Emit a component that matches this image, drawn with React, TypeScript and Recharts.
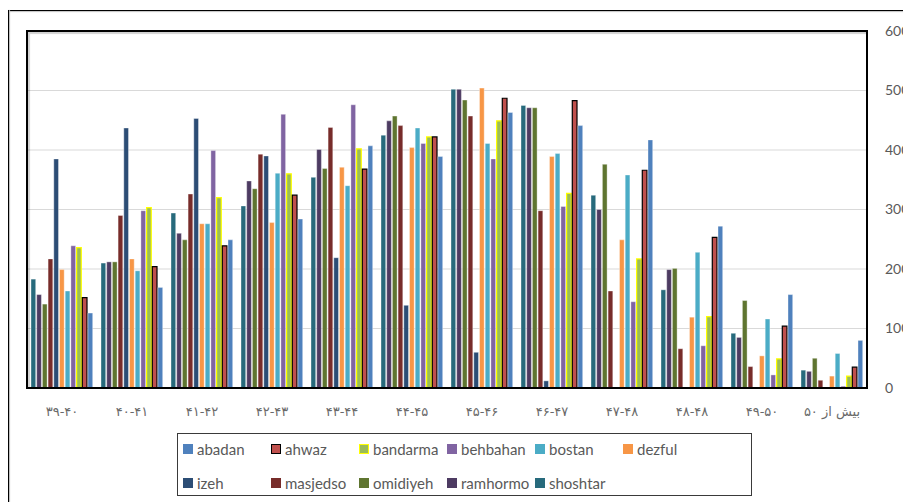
import React from 'react';
import { BarChart, Bar, XAxis, YAxis, CartesianGrid, Legend } from 'recharts';

const categories = [
  '۳۹-۴۰', '۴۰-۴۱', '۴۱-۴۲', '۴۲-۴۳', '۴۳-۴۴', '۴۴-۴۵',
  '۴۵-۴۶', '۴۶-۴۷', '۴۷-۴۸', '۴۸-۴۸', '۴۹-۵۰', 'بیش از ۵۰',
];

const seriesNames = [
  'abadan', 'ahwaz', 'bandarma', 'behbahan', 'bostan', 'dezful',
  'izeh', 'masjedso', 'omidiyeh', 'ramhormo', 'shoshtar',
];

const abadan = [126, 169, 249, 284, 407, 389, 463, 441, 417, 272, 157, 80];
const ahwaz = [152, 204, 239, 324, 368, 422, 487, 483, 366, 253, 104, 35];
const bandarma = [236, 303, 320, 360, 402, 422, 449, 327, 217, 120, 49, 20];
const behbahan = [239, 298, 399, 460, 476, 411, 385, 305, 145, 71, 22, 3];
const bostan = [163, 197, 276, 361, 340, 437, 411, 394, 358, 228, 116, 58];
const dezful = [199, 217, 276, 278, 371, 404, 504, 389, 249, 119, 54, 20];
const izeh = [385, 437, 453, 390, 219, 139, 60, 12, 0, 0, 0, 0];
const masjedso = [217, 290, 326, 393, 438, 441, 457, 298, 163, 66, 36, 13];
const omidiyeh = [141, 212, 249, 335, 369, 457, 484, 471, 376, 201, 147, 50];
const ramhormo = [157, 212, 260, 348, 401, 449, 502, 471, 300, 199, 85, 28];
const shoshtar = [183, 210, 294, 306, 354, 425, 502, 475, 324, 165, 92, 30];

const yTicks = [0, 100, 200, 300, 400, 500, 600];

const seriesValues: Record<string, number[]> = {
  abadan, ahwaz, bandarma, behbahan, bostan, dezful, izeh, masjedso, omidiyeh, ramhormo, shoshtar,
};

const seriesStyle: Record<string, { fill: string; stroke: string; strokeWidth: number }> = {
  abadan: { fill: '#4F81BD', stroke: 'rgba(255,255,255,0.45)', strokeWidth: 0.8 },
  ahwaz: { fill: '#C0504D', stroke: '#000000', strokeWidth: 1.2 },
  bandarma: { fill: '#9BBB59', stroke: '#FFFF00', strokeWidth: 1.2 },
  behbahan: { fill: '#8064A2', stroke: 'rgba(255,255,255,0.45)', strokeWidth: 0.8 },
  bostan: { fill: '#4BACC6', stroke: 'rgba(255,255,255,0.45)', strokeWidth: 0.8 },
  dezful: { fill: '#F79646', stroke: 'rgba(255,255,255,0.45)', strokeWidth: 0.8 },
  izeh: { fill: '#2C4D75', stroke: 'rgba(255,255,255,0.45)', strokeWidth: 0.8 },
  masjedso: { fill: '#772C2A', stroke: 'rgba(255,255,255,0.45)', strokeWidth: 0.8 },
  omidiyeh: { fill: '#5F7530', stroke: 'rgba(255,255,255,0.45)', strokeWidth: 0.8 },
  ramhormo: { fill: '#4D3B62', stroke: 'rgba(255,255,255,0.45)', strokeWidth: 0.8 },
  shoshtar: { fill: '#276A7C', stroke: 'rgba(255,255,255,0.45)', strokeWidth: 0.8 },
};

const data = categories.map((category, i) => {
  const row: Record<string, string | number> = { category };
  seriesNames.forEach((name) => {
    row[name] = seriesValues[name][i];
  });
  return row;
});

const drawOrder = [...seriesNames].reverse();

const LegendBox = () => (
  <div
    style={{
      width: 575,
      height: 63,
      border: '1.5px solid #3a3a3a',
      boxSizing: 'border-box',
      position: 'relative',
      background: '#fff',
      fontFamily: 'Lato, "Open Sans", sans-serif',
      fontSize: 15,
      color: '#595959',
    }}
  >
    {seriesNames.map((name, i) => {
      const row = i < 6 ? 0 : 1;
      const col = i % 6;
      const st = seriesStyle[name];
      const special = name === 'ahwaz' || name === 'bandarma';
      return (
        <div
          key={name}
          style={{
            position: 'absolute',
            left: 4.5 + col * 88,
            top: row === 0 ? 4.5 : 38.5,
            height: 20,
            display: 'flex',
            alignItems: 'center',
            whiteSpace: 'nowrap',
          }}
        >
          <span
            style={{
              display: 'inline-block',
              width: 10,
              height: 10,
              boxSizing: 'border-box',
              background: st.fill,
              border: special ? `1.5px solid ${st.stroke}` : 'none',
            }}
          />
          <span style={{ marginLeft: 4.5, lineHeight: '20px' }}>{name}</span>
        </div>
      );
    })}
  </div>
);

export default function App() {
  return (
    <div
      style={{
        position: 'relative',
        marginLeft: -8,
        marginTop: -8,
        width: 911,
        height: 502,
        overflow: 'hidden',
        background: '#fff',
      }}
    >
      <div style={{ position: 'absolute', left: 0, top: 0, zIndex: 1 }}>
        <BarChart
          width={911}
          height={502}
          data={data}
          margin={{ top: 31, left: 27, right: 0, bottom: 84 }}
          barGap={1}
        >
          <CartesianGrid horizontal vertical={false} stroke="#D9D9D9" strokeWidth={1.2} />
          <XAxis
            dataKey="category"
            height={30}
            axisLine={false}
            tickLine={false}
            tickSize={0}
            tickMargin={19}
            interval={0}
            tick={{ fill: '#6a6a6a', fontSize: 13, fontFamily: '"DejaVu Sans", sans-serif' }}
          />
          <YAxis
            orientation="right"
            width={44}
            domain={[0, 600]}
            ticks={yTicks}
            axisLine={false}
            tickLine={false}
            tickSize={0}
            tickMargin={18}
            tick={{ fill: '#595959', fontSize: 14, fontFamily: 'Lato, sans-serif' }}
          />
          {drawOrder.map((name) => (
            <Bar
              key={name}
              dataKey={name}
              barSize={4.7}
              fill={seriesStyle[name].fill}
              stroke={seriesStyle[name].stroke}
              strokeWidth={seriesStyle[name].strokeWidth}
              isAnimationActive={false}
            />
          ))}
          <Legend
            layout="horizontal"
            verticalAlign="middle"
            align="center"
            wrapperStyle={{ position: 'absolute', left: 177, top: 433, width: 575, height: 63 }}
            content={() => <LegendBox />}
          />
        </BarChart>
      </div>
      {/* plot-area frame */}
      <div
        style={{
          position: 'absolute',
          left: 26,
          top: 30,
          width: 842,
          height: 359,
          boxSizing: 'border-box',
          border: '2px solid #000',
          boxShadow: 'inset 2px 2px 1px rgba(0,0,0,0.18)',
          pointerEvents: 'none',
          zIndex: 2,
        }}
      />
      {/* chart-area frame: top and left edges */}
      <div
        style={{
          position: 'absolute',
          left: 7,
          top: 10,
          width: 904,
          height: 1,
          background: '#000',
          boxShadow: '0 1px 1px #bbb',
          pointerEvents: 'none',
          zIndex: 3,
        }}
      />
      <div
        style={{
          position: 'absolute',
          left: 7,
          top: 10,
          width: 1.5,
          height: 492,
          background: '#000',
          boxShadow: '1px 0 1px #bbb',
          pointerEvents: 'none',
          zIndex: 3,
        }}
      />
    </div>
  );
}
